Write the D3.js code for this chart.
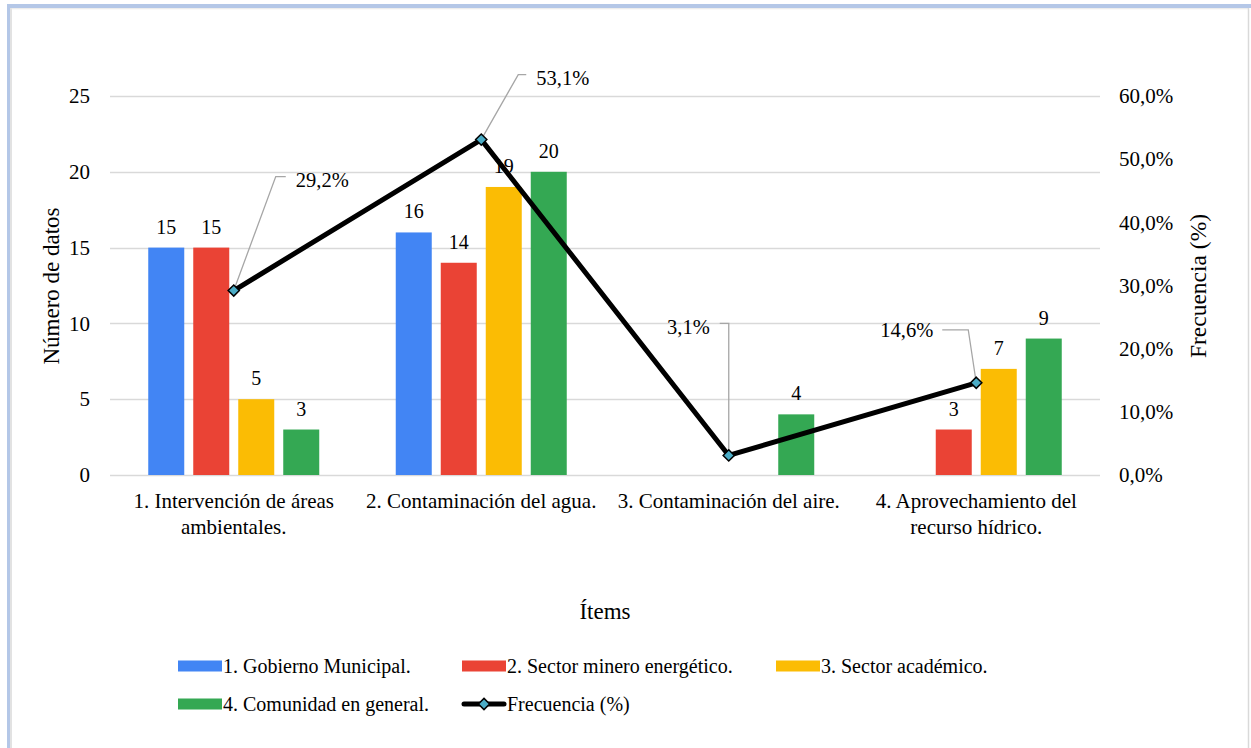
<!DOCTYPE html>
<html><head><meta charset="utf-8">
<script src="https://cdn.jsdelivr.net/npm/d3@7/dist/d3.min.js"></script>
<style>body{margin:0;background:#fff}svg{display:block}svg text{font-family:"Liberation Serif",serif !important;fill:#000}</style>
</head><body><svg id="c" width="1251" height="748"></svg>
<script>
const categories = [["1. Intervención de áreas","ambientales."],["2. Contaminación del agua."],["3. Contaminación del aire."],["4. Aprovechamiento del","recurso hídrico."]];
const seriesNames = ["1. Gobierno Municipal.","2. Sector minero energético.","3. Sector académico.","4. Comunidad en general."];
const gobierno = [15,16,null,null];
const minero = [15,14,null,3];
const academico = [5,19,null,7];
const comunidad = [3,20,4,9];
const frecuencia = [29.2,53.1,3.1,14.6];
const freqLabels = ["29,2%","53,1%","3,1%","14,6%"];
const leftTicks = [0,5,10,15,20,25];
const rightTicks = [0,10,20,30,40,50,60];
const colors = ["#4285f4","#ea4335","#fbbc04","#34a853"];
const FONT = "Liberation Serif";
const FS = 20, FSA = 21;

const svg = d3.select("#c").attr("font-family",FONT);
// frame
svg.append("line").attr("x1",7).attr("x2",1251).attr("y1",6).attr("y2",6).attr("stroke","#b4c7e7").attr("stroke-width",4);
svg.append("line").attr("x1",8.5).attr("x2",8.5).attr("y1",4).attr("y2",748).attr("stroke","#b4c7e7").attr("stroke-width",3);
svg.append("line").attr("x1",11).attr("x2",11).attr("y1",8).attr("y2",748).attr("stroke","#d9d9d9").attr("stroke-width",1.5);
svg.append("line").attr("x1",11).attr("x2",1249).attr("y1",8.75).attr("y2",8.75).attr("stroke","#e6e6e6").attr("stroke-width",1);
svg.append("line").attr("x1",1248.5).attr("x2",1248.5).attr("y1",8).attr("y2",748).attr("stroke","#d9d9d9").attr("stroke-width",1.5);

const L=110,R=1100,T=96,B=475;
const x = d3.scaleBand().domain(d3.range(4)).range([L,R]);
const y = d3.scaleLinear().domain([0,25]).range([B,T]);
const y2 = d3.scaleLinear().domain([0,60]).range([B,T]);
const groupW = 171;
const xs = d3.scaleBand().domain(d3.range(4)).range([0,groupW]).paddingInner(0.2);

// gridlines
svg.append("g").selectAll("line").data(leftTicks).join("line")
 .attr("x1",L).attr("x2",R).attr("y1",d=>Math.round(y(d))+0.5).attr("y2",d=>Math.round(y(d))+0.5)
 .attr("stroke","#d9d9d9").attr("stroke-width",1.6);

// left axis
const ga = svg.append("g").attr("transform",`translate(${L-12},0)`).call(d3.axisLeft(y).tickValues(leftTicks).tickSize(0).tickPadding(8));
ga.attr("font-family",FONT).attr("font-size",FSA);
ga.select(".domain").remove();
// right axis
const gb = svg.append("g").attr("transform",`translate(${R+12},0)`).call(d3.axisRight(y2).tickValues(rightTicks).tickSize(0).tickPadding(7).tickFormat(d=>d.toFixed(1).replace(".",",")+"%"));
gb.attr("font-family",FONT).attr("font-size",FSA);
gb.select(".domain").remove();

function txt(sel, fs){ return sel.attr("font-family",FONT).attr("font-size",fs||FS); }

// bars
const series = [gobierno,minero,academico,comunidad];
series.forEach((vals,si)=>{
  const g = svg.append("g");
  const data = vals.map((v,i)=>({v,i})).filter(d=>d.v!==null);
  g.selectAll("rect").data(data).join("rect")
   .attr("x",d=>x(d.i)+x.bandwidth()/2-groupW/2+xs(si))
   .attr("width",xs.bandwidth())
   .attr("y",d=>y(d.v)).attr("height",d=>B-y(d.v))
   .attr("fill",colors[si]);
  txt(g.selectAll("text").data(data).join("text"))
   .attr("x",d=>x(d.i)+x.bandwidth()/2-groupW/2+xs(si)+xs.bandwidth()/2)
   .attr("y",d=>y(d.v)-14).attr("text-anchor","middle").text(d=>d.v);
});

// category labels
categories.forEach((lines,i)=>{
  const t = txt(svg.append("text"),FSA).attr("text-anchor","middle");
  lines.forEach((ln,j)=>t.append("tspan").attr("x",x(i)+x.bandwidth()/2).attr("y",508+j*26).text(ln));
});

// line
const cx = i=>x(i)+x.bandwidth()/2;
const leaders = [
  {pts:[[0,0],[42,-114],[52,-114]], tx:62, ty:-104, anchor:"start"},
  {pts:[[0,0],[37,-65],[45,-65]], tx:55, ty:-55, anchor:"start"},
  {pts:[[0,0],[0,-132],[-9,-132]], tx:-19, ty:-121, anchor:"end"},
  {pts:[[0,0],[-8,-53],[-34,-53]], tx:-43, ty:-46, anchor:"end"}
];
frecuencia.forEach((v,i)=>{
  const px=cx(i), py=y2(v), ld=leaders[i];
  svg.append("path").attr("d",d3.line()(ld.pts.map(p=>[px+p[0],py+p[1]]))).attr("fill","none").attr("stroke","#a6a6a6").attr("stroke-width",1.3);
  txt(svg.append("text"),20.5).attr("x",px+ld.tx).attr("y",py+ld.ty).attr("text-anchor",ld.anchor).text(freqLabels[i]);
});
svg.append("path").datum(frecuencia).attr("d",d3.line().x((d,i)=>cx(i)).y(d=>y2(d)))
 .attr("fill","none").attr("stroke","#000").attr("stroke-width",5).attr("stroke-linejoin","round");
const diamond = d3.symbol().type(d3.symbolDiamond2).size(80);
svg.append("g").selectAll("path").data(frecuencia).join("path")
 .attr("transform",(d,i)=>`translate(${cx(i)},${y2(d)})`).attr("d",diamond)
 .attr("fill","#4bacc6").attr("stroke","#000").attr("stroke-width",1.5);

// axis titles
txt(svg.append("text"),23).attr("transform","translate(59,286) rotate(-90)").attr("text-anchor","middle").text("Número de datos");
txt(svg.append("text"),23.5).attr("transform","translate(1206,286) rotate(-90)").attr("text-anchor","middle").text("Frecuencia (%)");
txt(svg.append("text"),23).attr("x",605).attr("y",619).attr("text-anchor","middle").text("Ítems");

// legend
const legendItems = [
  {name:seriesNames[0],c:colors[0],x:178,y:666},
  {name:seriesNames[1],c:colors[1],x:462,y:666},
  {name:seriesNames[2],c:colors[2],x:776,y:666},
  {name:seriesNames[3],c:colors[3],x:178,y:704},
  {name:"Frecuencia (%)",c:null,x:462,y:704}
];
legendItems.forEach(it=>{
  if(it.c){
    svg.append("rect").attr("x",it.x).attr("y",it.y-5.5).attr("width",44).attr("height",11).attr("fill",it.c);
    txt(svg.append("text")).attr("x",it.x+45).attr("y",it.y+7).text(it.name);
  } else {
    svg.append("line").attr("x1",it.x+2).attr("x2",it.x+42).attr("y1",it.y).attr("y2",it.y).attr("stroke","#000").attr("stroke-width",5).attr("stroke-linecap","round");
    svg.append("path").attr("transform",`translate(${it.x+22},${it.y})`).attr("d",diamond).attr("fill","#4bacc6").attr("stroke","#000").attr("stroke-width",1.5);
    txt(svg.append("text")).attr("x",it.x+45).attr("y",it.y+7).text(it.name);
  }
});
</script></body></html>
